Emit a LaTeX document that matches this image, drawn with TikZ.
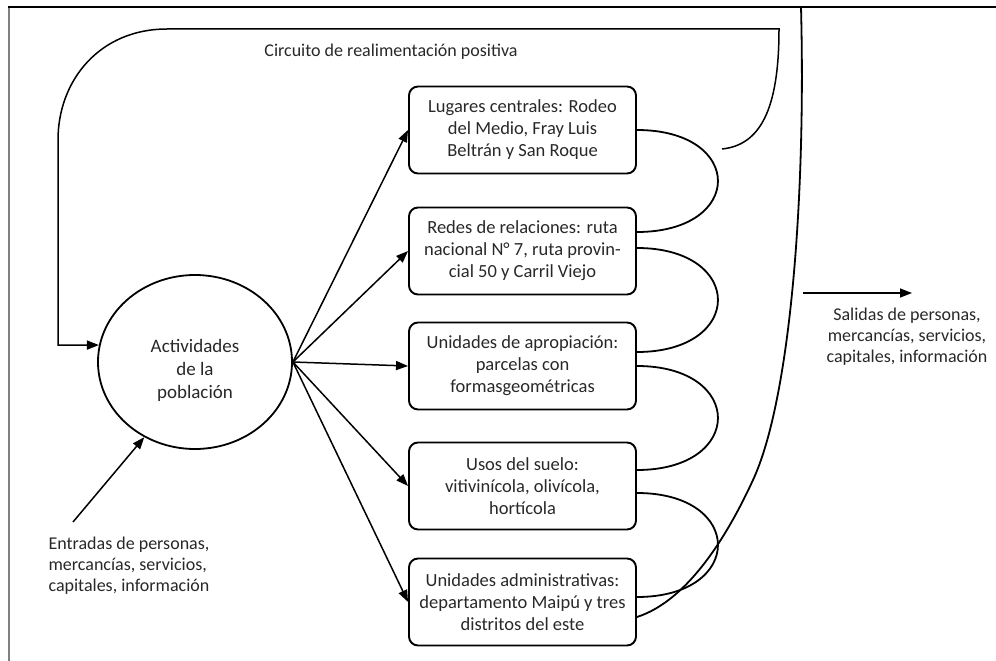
\documentclass[tikz,border=0pt]{standalone}
\usepackage{fontspec}
\setmainfont{Carlito}
\usetikzlibrary{shapes.geometric, arrows.meta, positioning, calc}
\definecolor{txtgray}{RGB}{40,40,40}

\begin{document}
\begin{tikzpicture}[x=1pt, y=-1pt,
  box/.style={draw, line width=1.9pt, rounded corners=9pt, minimum width=227pt, minimum height=87pt, align=center, font=\fontsize{18.5}{22}\selectfont, text=txtgray},
  flow/.style={line width=1.5pt, -{Triangle[length=12pt, width=9pt]}},
  link/.style={line width=1.8pt},
  lbl/.style={font=\fontsize{18}{21}\selectfont, text=txtgray}
]
  \useasboundingbox (0,0) rectangle (996,661);

  % Frame
  \draw[gray, line width=2pt] (9,661) -- (9,7);
  \draw[line width=1.2pt] (8,7) -- (996,7);

  % Activities
  \node[draw, ellipse, line width=1.8pt, minimum width=194pt, minimum height=174pt,
        label={[yshift=-8pt, align=center, font=\fontsize{19}{23}\selectfont, text=txtgray]center:Actividades\\de la\\población}] (act) at (195,362) {};

  % Boxes
  \node[box] (b1) at (522.5,130) {Lugares centrales: Rodeo\\del Medio, Fray Luis\\Beltrán y San Roque};
  \node[box] (b2) at (522.5,251) {Redes de relaciones: ruta\\nacional N° 7, ruta provin-\\cial 50 y Carril Viejo};
  \node[box] (b3) at (522.5,366) {Unidades de apropiación:\\parcelas con\\formasgeométricas};
  \node[box] (b4) at (522.5,486) {Usos del suelo:\\vitivinícola, olivícola,\\hortícola};
  \node[box] (b5) at (522.5,602) {Unidades administrativas:\\departamento Maipú y tres\\distritos del este};

  % Flows to the boxes
  \foreach \i in {1,...,5} {
    \draw[flow] (act.east) -- (b\i.west);
  }

  % Links between boxes
  \foreach \a/\sa/\b/\sb in {1/0/2/19, 2/3/3/14, 3/0/4/16, 4/-7/5/5} {
    \draw[link] ([yshift=\sa pt]b\a.east) .. controls +(108,0) and +(108,0) .. ([yshift=\sb pt]b\b.east);
  }

  % Outer boundary
  \coordinate (bend) at (753,480);
  \coordinate (rim) at (801,7);
  \draw[link] ([yshift=-15pt]b5.east) .. controls (690,600) and (730,530) .. (bend)
    .. controls (790,400) and (806,200) .. (rim);

  % Feedback loop
  \node[lbl] (circ) at (391,52) {Circuito de realimentación positiva};
  \coordinate (loopend) at (722,149);
  \draw[flow] (loopend) .. controls (760,145) and (779,110) .. (779,29) -- (167,29)
    .. controls (100,29) and (58,80) .. (58,140) |- (act.170);

  % Inputs
  \node[lbl, align=left, anchor=north west] (entradas) at (45,533) {Entradas de personas,\\mercancías, servicios,\\capitales, información};
  \coordinate (ent) at (73,522);
  \draw[flow] (ent) -- (act.236);

  % Outputs
  \node[lbl, align=center] (salidas) at (907,337) {Salidas de personas,\\mercancías, servicios,\\capitales, información};
  \coordinate (sal0) at (803,293);
  \coordinate (sal1) at (912,293);
  \draw[flow] (sal0) -- (sal1);
\end{tikzpicture}
\end{document}
